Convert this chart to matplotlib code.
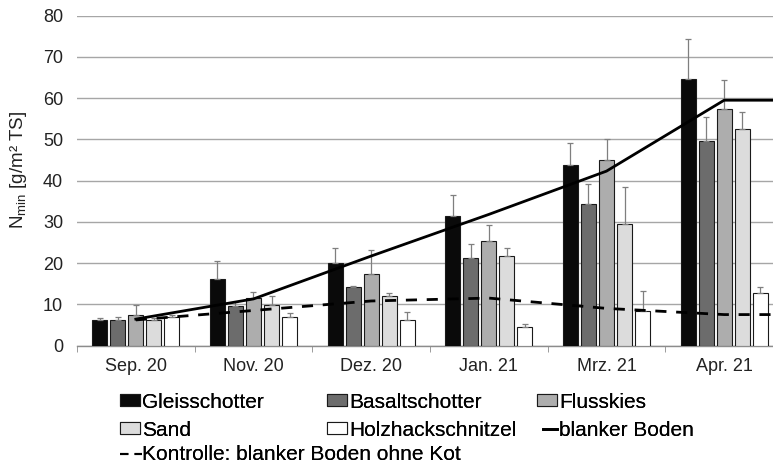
import numpy as np
import matplotlib
matplotlib.use("Agg")
import matplotlib.pyplot as plt
from matplotlib.patches import Patch
from matplotlib.lines import Line2D

plt.rcParams['font.family'] = ['Liberation Sans', 'DejaVu Sans']
plt.rcParams['mathtext.fontset'] = 'custom'
plt.rcParams['mathtext.rm'] = 'Liberation Sans'
plt.rcParams['mathtext.it'] = 'Liberation Sans'

# data
months = ["Sep. 20", "Nov. 20", "Dez. 20", "Jan. 21", "Mrz. 21", "Apr. 21"]
gleis = [6.2, 16.2, 20.0, 31.4, 43.7, 64.6]
basalt = [6.2, 9.5, 14.1, 21.3, 34.4, 49.5]
fluss = [7.5, 11.5, 17.4, 25.3, 45.1, 57.4]
sand = [6.3, 9.8, 12.0, 21.8, 29.5, 52.6]
holz = [7.0, 6.8, 6.2, 4.4, 8.3, 12.8]
gleis_err = [0.5, 4.2, 3.7, 5.2, 5.4, 9.7]
basalt_err = [0.8, 1.0, 0.3, 3.4, 4.8, 5.9]
fluss_err = [2.4, 1.4, 5.8, 4.0, 5.1, 6.9]
sand_err = [0.3, 2.3, 0.7, 1.9, 8.9, 4.0]
holz_err = [0.3, 1.0, 2.0, 0.7, 5.0, 1.4]
blanker_boden = [6.4, 11.3, 21.7, 31.8, 42.3, 59.5]
kontrolle = [6.2, 8.5, 10.8, 11.5, 9.0, 7.5]

series = [
    ("Gleisschotter", gleis, gleis_err, "#0a0a0a"),
    ("Basaltschotter", basalt, basalt_err, "#6c6c6c"),
    ("Flusskies", fluss, fluss_err, "#adadad"),
    ("Sand", sand, sand_err, "#dcdcdc"),
    ("Holzhackschnitzel", holz, holz_err, "#ffffff"),
]

W, H = 773, 468
fig = plt.figure(figsize=(W / 100, H / 100), dpi=100)
ax = fig.add_axes([77 / W, 1 - 345.5 / H, 706 / W, (345.5 - 15.7) / H])

x = np.arange(len(months))
pitch = 0.153
width = 0.1275
handles = {}
for k, (name, vals, err, col) in enumerate(series):
    off = (k - 2) * pitch
    ax.bar(x + off, vals, width, color=col, edgecolor="#1a1a1a", linewidth=0.8,
           yerr=[np.zeros(len(vals)), err],
           error_kw=dict(ecolor="#7f7f7f", elinewidth=0.9, capsize=2.5, capthick=0.9),
           zorder=3)
    handles[name] = Patch(facecolor=col, edgecolor="#1a1a1a", linewidth=0.8)

# lines run from first category centre to the right edge of the plot
line_x = np.append(x, len(months) - 0.5)
ax.plot(line_x, blanker_boden + blanker_boden[-1:], color="black", lw=2.0, zorder=5)
ax.plot(line_x, kontrolle + kontrolle[-1:], color="black", lw=2.0,
        dashes=(4, 3.5), zorder=5)

ax.set_xlim(-0.5, len(months) - 0.5)
ax.set_ylim(0, 80)
ax.set_yticks(range(0, 81, 10))
ax.yaxis.grid(True, color="#a6a6a6", lw=1.0, zorder=0)
ax.set_axisbelow(True)
for s in ["top", "right", "left"]:
    ax.spines[s].set_visible(False)
ax.spines["bottom"].set_color("#8c8c8c")
ax.spines["bottom"].set_linewidth(1.0)

ax.set_xticks(x)
ax.set_xticklabels(months)
ax.set_xticks(np.arange(-0.5, len(months), 1.0), minor=True)
ax.tick_params(axis="x", which="major", length=0, pad=9, labelsize=13, colors="#222222")
ax.tick_params(axis="x", which="minor", length=4, color="#8c8c8c", direction="out")
ax.tick_params(axis="y", length=0, pad=10, labelsize=13, colors="#222222")

fig.text(19 / W, 1 - 170 / H, r"N$_{\mathrm{min}}$ [g/m² TS]", rotation=90,
         ha="center", va="center", fontsize=13.5, color="#222222")

# legend entries placed one by one (Excel-like fixed grid)
leg_kw = dict(frameon=False, fontsize=15, handleheight=0.5,
              borderpad=0, borderaxespad=0, loc="center left")
entries = [
    (handles["Gleisschotter"], "Gleisschotter", 120, 402, 0.96, 0.1),
    (handles["Basaltschotter"], "Basaltschotter", 327, 402, 0.96, 0.1),
    (handles["Flusskies"], "Flusskies", 537, 402, 0.96, 0.1),
    (handles["Sand"], "Sand", 120, 430, 0.96, 0.1),
    (handles["Holzhackschnitzel"], "Holzhackschnitzel", 327, 430, 0.96, 0.1),
    (Line2D([], [], color="black", lw=2.0), "blanker Boden", 543, 430, 0.68, 0.1),
    (Line2D([], [], color="black", lw=1.5, dashes=(4, 3)),
     "Kontrolle: blanker Boden ohne Kot", 120, 455, 1.05, 0.0),
]
for h, lab, xp, yp, hl, tp in entries:
    lg = fig.legend([h], [lab], bbox_to_anchor=(xp / W, 1 - yp / H),
                    handlelength=hl, handletextpad=tp, **leg_kw)
    fig.add_artist(lg)

fig.savefig("out.png", dpi=100)
